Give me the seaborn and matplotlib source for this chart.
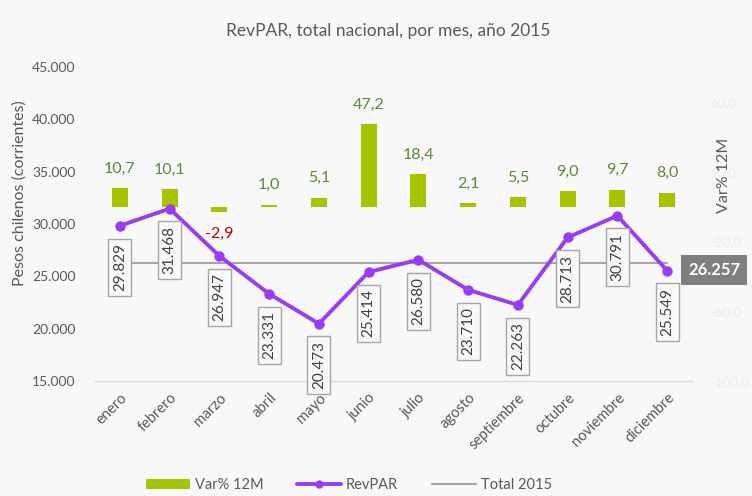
import numpy as np
import pandas as pd
import matplotlib
matplotlib.use("Agg")
import matplotlib.pyplot as plt
import seaborn as sns
from matplotlib.patches import Patch
from matplotlib.lines import Line2D
from matplotlib.ticker import FuncFormatter

# ---------------- data ----------------
months = ["enero", "febrero", "marzo", "abril", "mayo", "junio", "julio",
          "agosto", "septiembre", "octubre", "noviembre", "diciembre"]
revpar = [29829, 31468, 26947, 23331, 20473, 25414, 26580, 23710, 22263,
          28713, 30791, 25549]
var12m = [10.7, 10.1, -2.9, 1.0, 5.1, 47.2, 18.4, 2.1, 5.5, 9.0, 9.7, 8.0]
total_2015 = 26257
left_ticks = [15000, 20000, 25000, 30000, 35000, 40000, 45000]
right_ticks = [-100, -60, -20, 20, 60]

# ---------------- style ----------------
sns.set_theme(style="white")
plt.rcParams["font.family"] = ["Lato", "DejaVu Sans"]

bg = "#f8f8f8"
green = "#a8c400"
green_txt = "#5b8a32"
purple = "#9a3bf6"
gray_line = "#a6a6a6"
txt = "#595959"

df = pd.DataFrame({"mes": months, "pos": np.arange(len(months)),
                   "revpar": revpar, "var": var12m,
                   "total": [total_2015] * len(months)})

fig = plt.figure(figsize=(7.52, 4.96), dpi=100, facecolor=bg)
W, H = 752, 496
ax = fig.add_axes([95 / W, 1 - 381 / H, (692 - 95) / W, (381 - 67) / H])
ax2 = ax.twinx()
ax.set_zorder(ax2.get_zorder() + 1)
ax.patch.set_visible(False)
ax2.patch.set_visible(True)
ax2.patch.set_facecolor(bg)

# bars (right axis)
sns.barplot(data=df, x="pos", y="var", ax=ax2, color=green, width=0.32,
            saturation=1, edgecolor="none")
for p, v in zip(df["pos"], df["var"]):
    ax2.annotate(f"{v:.1f}".replace(".", ","), (p, v),
                 xytext=(0, 14 if v >= 0 else -16), textcoords="offset points",
                 ha="center", va="center", fontsize=11.5,
                 color=green_txt if v >= 0 else "#c00000")

# lines (left axis)
sns.lineplot(data=df, x="pos", y="total", ax=ax, color=gray_line, lw=1.5,
             legend=False)
sns.lineplot(data=df, x="pos", y="revpar", ax=ax, color=purple, lw=2.8,
             marker="o", markersize=7.5, markeredgewidth=0, legend=False)

for p, v in zip(df["pos"], df["revpar"]):
    ax.annotate(f"{v:,}".replace(",", "."), (p, v), xytext=(0, -12.5),
                textcoords="offset points", rotation=90, ha="center", va="top",
                fontsize=11, color="#404040",
                bbox=dict(boxstyle="square,pad=0.3", fc=bg, ec="#a6a6a6", lw=1))

ax.annotate(f"{total_2015:,}".replace(",", "."), (df["pos"].iloc[-1], total_2015),
            xytext=(15, -5), textcoords="offset points", ha="left", va="center",
            fontsize=12, fontweight="bold", color="white", annotation_clip=False,
            bbox=dict(boxstyle="square,pad=0.4", fc="#7f7f7f", ec="none"))

# axes setup
ax.set_xlim(-0.5, len(months) - 0.5)
ax.set_ylim(left_ticks[0], left_ticks[-1])
ax.set_yticks(left_ticks)
ax.yaxis.set_major_formatter(FuncFormatter(lambda v, _: f"{int(v):,}".replace(",", ".")))
ax.set_xticks(df["pos"])
ax.set_xticklabels(months, rotation=45, ha="right", rotation_mode="anchor")
ax.tick_params(axis="x", length=0, pad=7, labelsize=10.5, labelcolor=txt)
ax.tick_params(axis="y", length=0, pad=14, labelsize=10, labelcolor=txt)
ax.set_xlabel("")
ax.set_ylabel("")

ax2.set_ylim(-100, 80)
ax2.set_yticks(right_ticks)
ax2.yaxis.set_major_formatter(FuncFormatter(lambda v, _: f"{v:.1f}".replace(".", ",")))
ax2.tick_params(axis="y", length=0, pad=13, labelsize=9.5, labelcolor="#ececec")
ax2.set_xlabel("")
ax2.set_ylabel("")

for s in ax.spines.values():
    s.set_visible(False)
for s in ax2.spines.values():
    s.set_visible(False)
ax.spines["bottom"].set_visible(True)
ax.spines["bottom"].set_color("#d9d9d9")
ax.spines["bottom"].set_linewidth(1)
ax.grid(False)
ax2.grid(False)

fig.text(388 / W, 1 - 31 / H, "RevPAR, total nacional, por mes, año 2015",
         ha="center", va="center", fontsize=12.5, color=txt)
fig.text(20 / W, 1 - 193 / H, "Pesos chilenos (corrientes)", rotation=90,
         ha="center", va="center", fontsize=11.5, color=txt)
fig.text(724 / W, 1 - 175 / H, "Var% 12M", rotation=90,
         ha="center", va="center", fontsize=11.5, color=txt)

handles = [Patch(facecolor=green, edgecolor="none"),
           Line2D([], [], color=purple, lw=2.8, marker="o", markersize=5),
           Line2D([], [], color=gray_line, lw=1.5)]
fig.legend(handles, ["Var% 12M", "RevPAR", "Total 2015"], loc="center",
           bbox_to_anchor=(349 / W, 1 - 485 / H), ncol=3, frameon=False,
           fontsize=10.5, labelcolor=txt, handlelength=3.0, columnspacing=2.3,
           handletextpad=0.35)

fig.savefig("out.png", dpi=100, facecolor=bg)
